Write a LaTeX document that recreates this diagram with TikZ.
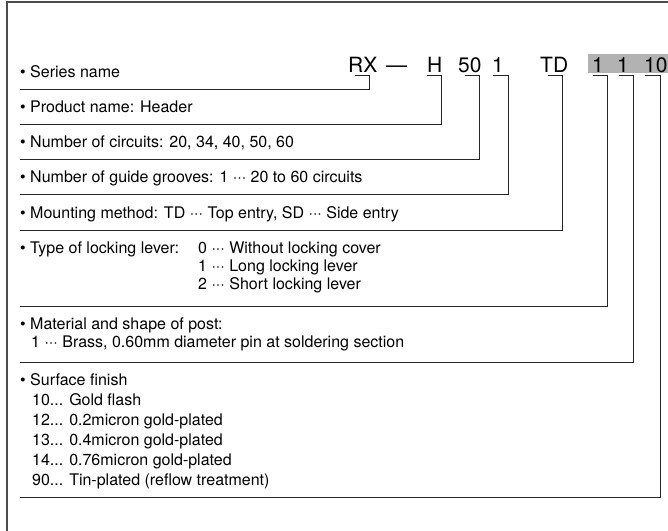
\documentclass[tikz,border=0pt]{standalone}
\usepackage{fontspec}
\setmainfont{TeX Gyre Heros}
\usetikzlibrary{calc}
\newcommand{\mdots}{\textperiodcentered\textperiodcentered\textperiodcentered}
\tikzset{
  desc/.style={anchor=base west, inner sep=0pt, text height=11.5pt, text depth=3.5pt,
    font=\fontsize{16}{19}\selectfont},
  code/.style={anchor=base west, inner sep=0pt, font=\fontsize{21}{24}\selectfont},
  conn/.style={line width=0.8pt, black!85},
}

\begin{document}
\begin{tikzpicture}[x=1pt,y=-1pt]

    \useasboundingbox (0,0) rectangle (668,530);
    \draw[line width=1.2pt, black!70] (7,534) -- (7,2) -- (672,2);

    % part number
    \fill[black!30] (588,54) rectangle (672,73);
    \node[code] (rx) at (348,72) {RX};
    \node[code] (dash) at (386,72) {---};
    \node[code] (hd) at (427,72) {H};
    \node[code] (nc) at (458,72) {50};
    \node[code] (ng) at (492,72) {1};
    \node[code] (td) at (540,72) {TD};
    \node[code] (lk) at (592,72) {1};
    \node[code] (mt) at (617,72) {1};
    \node[code] (sf) at (644,72) {10};

    % descriptions
    \node[desc] (series) at (20,77) {\textbullet\ Series name};
    \node[desc] (product) at (20,112) {\textbullet\ Product name: Header};
    \node[desc] (circuits) at (20,147) {\textbullet\ Number of circuits: 20, 34, 40, 50, 60};
    \node[desc] (grooves) at (20,182) {\textbullet\ Number of guide grooves: 1 \mdots{} 20 to 60 circuits};
    \node[desc] (mount) at (20,218) {\textbullet\ Mounting method: TD \mdots{} Top entry, SD \mdots{} Side entry};
    \node[desc] (lever) at (20,253) {\textbullet\ Type of locking lever:};
    \node[desc] (lever0) at (198,253) {0 \mdots{} Without locking cover};
    \node[desc] (lever1) at (198,271) {1 \mdots{} Long locking lever};
    \node[desc] (lever2) at (198,289) {2 \mdots{} Short locking lever};
    \node[desc] (post) at (20,329) {\textbullet\ Material and shape of post:};
    \node[desc] (post1) at (31,347) {1 \mdots{} Brass, 0.60mm diameter pin at soldering section};
    \node[desc] (finish) at (20,385) {\textbullet\ Surface finish};
    \node[desc] (fin10) at (32,405) {10... Gold flash};
    \node[desc] (fin12) at (32,425) {12... 0.2micron gold-plated};
    \node[desc] (fin13) at (32,445) {13... 0.4micron gold-plated};
    \node[desc] (fin14) at (32,465) {14... 0.76micron gold-plated};
    \node[desc] (fin90) at (32,485) {90... Tin-plated (reflow treatment)};

    % hooks under the code and lines under the descriptions
    \coordinate (rxhook) at (355,75);
    \coordinate (hdhook) at (427,75);
    \coordinate (nchook) at (465,75);
    \coordinate (nghook) at (493,75);
    \coordinate (tdhook) at (548,75);
    \coordinate (lkhook) at (593,75);
    \coordinate (mthook) at (619,75);
    \coordinate (sfhook) at (645,75);

    \coordinate (seriesline) at (20,89);
    \coordinate (productline) at (20,124);
    \coordinate (circuitsline) at (20,159);
    \coordinate (groovesline) at (20,194);
    \coordinate (mountline) at (20,230);
    \coordinate (leverline) at (20,306);
    \coordinate (postline) at (20,362);
    \coordinate (finishline) at (20,497);

    \draw[conn] (rxhook) -- ++(14,0) |- (seriesline);
    \draw[conn] (hdhook) -- ++(14,0) |- (productline);
    \draw[conn] (nchook) -- ++(14,0) |- (circuitsline);
    \draw[conn] (nghook) -- ++(15,0) |- (groovesline);
    \draw[conn] (tdhook) -- ++(14,0) |- (mountline);
    \draw[conn] (lkhook) -- ++(14,0) |- (leverline);
    \draw[conn] (mthook) -- ++(14,0) |- (postline);
    \draw[conn] (sfhook) -- ++(15,0) |- (finishline);

\end{tikzpicture}
\end{document}
